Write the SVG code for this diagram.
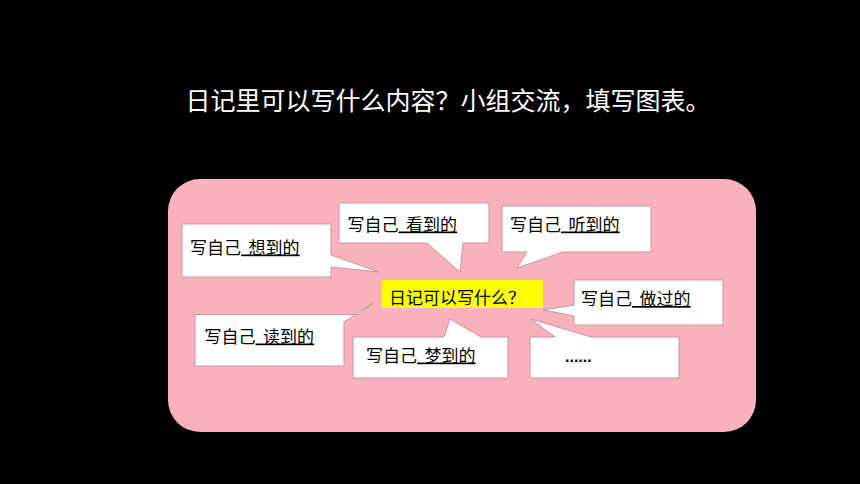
<svg xmlns="http://www.w3.org/2000/svg" width="860" height="484" viewBox="0 0 860 484">
<style>
.t{font-family:"Noto Sans CJK SC","Noto Sans",sans-serif;fill:#000;font-size:17px}
.title{font-family:"Noto Sans CJK SC","Noto Sans",sans-serif;fill:#fff;font-size:25px}
.co{fill:#fff;stroke:#c4979f;stroke-width:1}
.u{text-decoration:underline}
</style>
<rect width="860" height="484" fill="#000"/>
<text class="title" x="185.5" y="109.5">日记里可以写什么内容？小组交流，填写图表。</text>
<rect id="panel" x="168" y="179" width="588" height="253" rx="32" ry="32" fill="#f9b2bc"/>
<g id="connectors"/>
<g id="center">
<rect x="382" y="280" width="161" height="28" fill="#ffff00"/>
<text class="t" x="389" y="304">日记可以写什么？</text>
</g>
<g id="n-xiang">
<path class="co" d="M182,224H331V255L379,272L331,267V277H182Z"/>
<text class="t" x="190" y="253.5" xml:space="preserve">写自己<tspan class="u">  想到的</tspan></text>
</g>
<g id="n-kan">
<path class="co" d="M339,203H489V243H463L460,272L427,243H339Z"/>
<text class="t" x="347.5" y="230.5" xml:space="preserve">写自己<tspan class="u">  看到的</tspan></text>
</g>
<g id="n-ting">
<path class="co" d="M502,206H651V252H563L517,268L527,252H502Z"/>
<text class="t" x="510" y="230.5" xml:space="preserve">写自己<tspan class="u">  听到的</tspan></text>
</g>
<g id="n-zuo">
<path class="co" d="M574,280H723V325H574V316L543,310L574,305Z"/>
<text class="t" x="581" y="305" xml:space="preserve">写自己<tspan class="u">  做过的</tspan></text>
</g>
<g id="n-du">
<path class="co" d="M195,314.5H359L373,303L344,322V366H195Z"/>
<text class="t" x="204.5" y="342.5" xml:space="preserve">写自己<tspan class="u">  读到的</tspan></text>
</g>
<g id="n-meng">
<path class="co" d="M353,337H444L450,319L481,337H508V378H353Z"/>
<text class="t" x="366" y="361.5" xml:space="preserve">写自己<tspan class="u">  梦到的</tspan></text>
</g>
<g id="n-more">
<path class="co" d="M530,337H555L531,319L591,337H679V378H530Z"/>
<text x="565" y="362" style="font-family:'Liberation Sans',sans-serif;font-size:16px;font-weight:bold;fill:#000">......</text>
</g>
</svg>
